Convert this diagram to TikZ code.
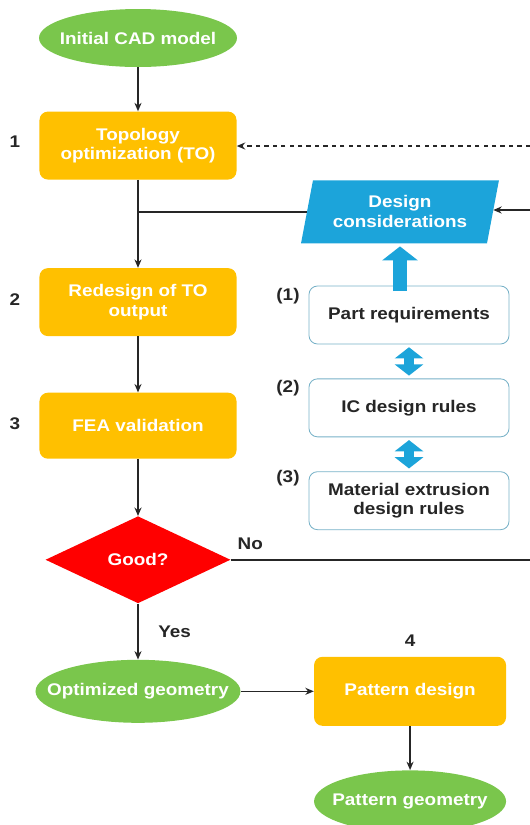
\documentclass[tikz,border=0pt]{standalone}
\usepackage{fontspec}
\setmainfont{Liberation Sans}[FakeStretch=1.12]
\usetikzlibrary{shapes.geometric, positioning, arrows.meta}
\definecolor{termgreen}{RGB}{122,198,76}
\definecolor{procorange}{RGB}{255,192,0}
\definecolor{considblue}{RGB}{28,164,218}
\definecolor{ruleedge}{RGB}{120,178,200}
\definecolor{badred}{RGB}{255,0,0}
\tikzstyle{term} = [ellipse, fill=termgreen, text=white, inner xsep=-0.6cm, minimum height=1.45cm, font=\bfseries]
\tikzstyle{proc} = [rectangle, rounded corners=6pt, fill=procorange, text=white, align=center, minimum width=4.925cm, minimum height=1.7cm, font=\bfseries]
\tikzstyle{consid} = [trapezium, trapezium left angle=77, trapezium right angle=103, trapezium stretches=true, fill=considblue, text=white, align=center, minimum width=4.95cm, minimum height=1.575cm, font=\bfseries]
\tikzstyle{rulebox} = [rectangle, rounded corners=6pt, draw=ruleedge, line width=0.6pt, fill=white, text=black!85, align=center, minimum width=5cm, minimum height=1.45cm, font=\bfseries]
\tikzstyle{decide} = [diamond, fill=badred, text=white, inner sep=0pt, minimum width=4.625cm, minimum height=2.175cm, font=\bfseries]
\tikzstyle{tag} = [text=black!85, font=\bfseries]
\tikzstyle{line} = [draw, line width=1.1pt, black!85]
\tikzstyle{arr} = [line, -{Stealth[length=6pt,width=5pt]}]
\tikzstyle{fat} = [draw=considblue, line width=10pt, -{Triangle[length=10pt,width=25pt]}]
\tikzstyle{fatboth} = [draw=considblue, line width=7pt, {Triangle[length=8pt,width=20pt]}-{Triangle[length=8pt,width=20pt]}]

\begin{document}
\fontsize{12}{14}\selectfont
\begin{tikzpicture}
	\useasboundingbox (0,0) rectangle (13.25,-20.625);
	% main column
	\node [term, minimum width=4.95cm] (cad) at (3.45,-0.95) {Initial CAD model};
	\node [proc, below=1.1cm of cad] (to) {Topology\\optimization (TO)};
	\node [proc, below=2.2cm of to] (redo) {Redesign of TO\\output};
	\node [proc, below=1.4cm of redo, minimum height=1.65cm] (fea) {FEA validation};
	\node [decide, below=1.425cm of fea] (good) {Good?};
	\node [term, below=1.4cm of good, minimum width=5.125cm, minimum height=1.575cm] (opt) {Optimized geometry};
	\node [proc, right=1.825cm of opt, minimum width=4.8cm, minimum height=1.725cm] (pat) {Pattern design};
	\node [term, below=1.1cm of pat, minimum width=4.8cm, minimum height=1.55cm] (patgeo) {Pattern geometry};
	% design considerations
	\node [rulebox] (req) at (10.225,-7.875) {Part requirements};
	\node [rulebox, below=0.85cm of req] (ic) {IC design rules};
	\node [rulebox, below=0.85cm of ic] (mat) {Material extrusion\\design rules};
	\node [consid, above=1.05cm of req, xshift=-0.225cm] (dc) {Design\\considerations};
	% step numbers
	\node [tag] (n1) at (0.375,-3.55) {1};
	\node [tag] (n2) at (0.375,-7.5) {2};
	\node [tag] (n3) at (0.375,-10.6) {3};
	\node [tag, above=0.1cm of pat] (n4) {4};
	\node [tag] (r1) at (7.2,-7.4) {(1)};
	\node [tag] (r2) at (7.2,-9.7) {(2)};
	\node [tag] (r3) at (7.2,-11.95) {(3)};
	% loose ends at the right border
	\coordinate (edgeto) at (13.25,-3.65);
	\coordinate (edgedc) at (13.25,-5.25);
	% connectors
	\draw [arr] (cad) -- (to);
	\draw [arr] (to) -- (redo);
	\draw [line] (dc.west) -- (dc.west -| to.south);
	\draw [arr] (redo) -- (fea);
	\draw [arr] (fea) -- (good);
	\draw [arr] (good) -- node [tag, right=0.35cm] {Yes} (opt);
	\draw [arr] (opt) -- (pat);
	\draw [arr] (pat) -- (patgeo);
	\draw [line] (good.east) -- node [tag, pos=0.065, above=0.1cm] {No} (good.east -| edgeto);
	\draw [arr, dashed] (edgeto) -- (to.east |- edgeto);
	\draw [arr] (edgedc) -- (dc.east |- edgedc);
	\draw [fat] ([yshift=-4pt]req.north -| dc.south) -- ([yshift=-2pt]dc.south);
	\draw [fatboth] ([yshift=-2pt]req.south) -- ([yshift=2pt]ic.north);
	\draw [fatboth] ([yshift=-2pt]ic.south) -- ([yshift=2pt]mat.north);
\end{tikzpicture}
\end{document}
